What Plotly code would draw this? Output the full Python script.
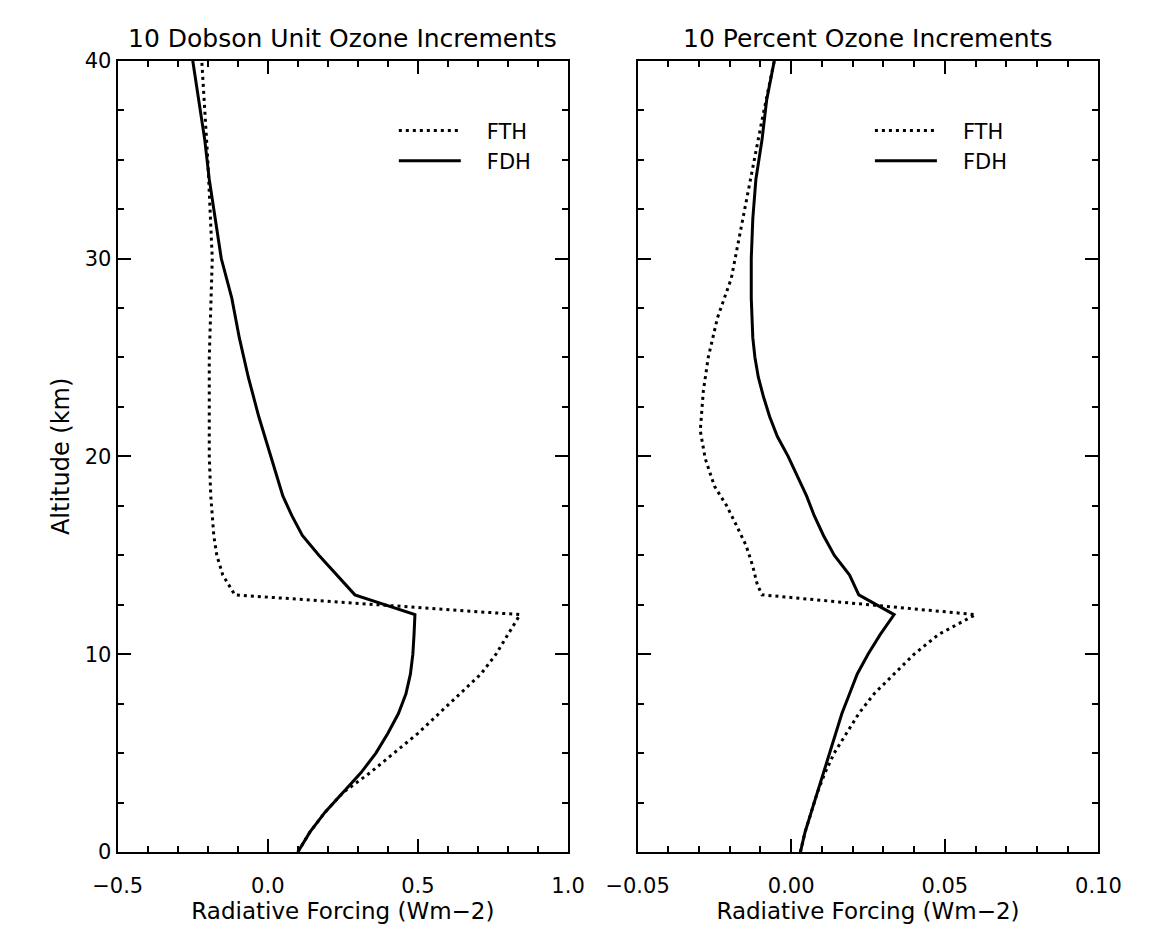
import plotly.graph_objects as go

# ---- 10 Dobson unit ozone increments: altitude (km) vs radiative forcing (W m-2)
du_alt_fth = [0, 1, 2, 3, 4, 5, 6, 7, 8, 9, 10, 11, 12, 13, 14, 15, 16, 18, 20, 25, 30, 35, 40]
du_fth = [0.10, 0.14, 0.19, 0.25, 0.34, 0.42, 0.50, 0.57, 0.64, 0.71, 0.76, 0.80, 0.84,
          -0.11, -0.15, -0.17, -0.18, -0.19, -0.195, -0.195, -0.185, -0.20, -0.22]
du_alt_fdh = [0, 1, 2, 3, 4, 5, 6, 7, 8, 9, 10, 11, 12, 13, 14, 15, 16, 17, 18, 19, 20,
              22, 24, 26, 28, 30, 32, 34, 36, 38, 40]
du_fdh = [0.10, 0.14, 0.19, 0.25, 0.31, 0.36, 0.40, 0.435, 0.46, 0.475, 0.483, 0.487, 0.49,
          0.29, 0.23, 0.17, 0.115, 0.08, 0.05, 0.03, 0.01,
          -0.03, -0.065, -0.095, -0.12, -0.155, -0.175, -0.195, -0.21, -0.23, -0.25]

# ---- 10 percent ozone increments
pct_alt_fth = [0, 1, 2, 3, 4, 5, 6, 7, 8, 9, 10, 11, 12, 13, 13.5, 14.5, 15.5, 16.5, 17.5,
               18.5, 19.9, 21.3, 23.3, 25, 27, 29, 31, 33, 35, 37, 40]
pct_fth = [0.003, 0.0045, 0.0065, 0.0085, 0.011, 0.014, 0.018, 0.022, 0.027, 0.0335, 0.040,
           0.048, 0.060, -0.0095, -0.011, -0.0126, -0.0147, -0.0178, -0.021, -0.025, -0.028,
           -0.0296, -0.0286, -0.027, -0.024, -0.0195, -0.017, -0.0145, -0.012, -0.0095, -0.0055]
pct_alt_fdh = [0, 1, 2, 3, 4, 5, 6, 7, 8, 9, 10, 11, 12, 13, 14, 15, 16, 17, 18, 19, 20,
               21, 22, 23, 24, 25, 26, 28, 30, 32, 34, 36, 38, 40]
pct_fdh = [0.003, 0.0045, 0.0065, 0.0085, 0.0105, 0.0125, 0.0145, 0.0165, 0.019, 0.0215,
           0.025, 0.029, 0.0335, 0.022, 0.019, 0.014, 0.0105, 0.0075, 0.005, 0.002, -0.001,
           -0.0045, -0.007, -0.009, -0.0107, -0.0118, -0.0125, -0.013, -0.013, -0.0125,
           -0.0115, -0.0095, -0.008, -0.0055]

series_names = ["FTH", "FDH"]
panel_titles = ["10 Dobson Unit Ozone Increments", "10 Percent Ozone Increments"]
x_title = "Radiative Forcing (Wm\u22122)"
y_title = "Altitude (km)"
y_ticks = [0, 10, 20, 30, 40]
du_x_ticks = [-0.5, 0.0, 0.5, 1.0]
pct_x_ticks = [-0.05, 0.00, 0.05, 0.10]

FONT = "DejaVu Sans"
INK = "black"
DOT = "3px,4px"
GAP = "\u2002\u2002"  # extra room between the legend sample and its label

fig = go.Figure()

fig.add_trace(go.Scatter(x=du_fth, y=du_alt_fth, mode="lines", name=GAP + series_names[0],
                         line=dict(color=INK, width=3, dash=DOT),
                         xaxis="x", yaxis="y", legend="legend"))
fig.add_trace(go.Scatter(x=du_fdh, y=du_alt_fdh, mode="lines", name=GAP + series_names[1],
                         line=dict(color=INK, width=3),
                         xaxis="x", yaxis="y", legend="legend"))
fig.add_trace(go.Scatter(x=pct_fth, y=pct_alt_fth, mode="lines", name=GAP + series_names[0],
                         line=dict(color=INK, width=3, dash=DOT),
                         xaxis="x2", yaxis="y2", legend="legend2"))
fig.add_trace(go.Scatter(x=pct_fdh, y=pct_alt_fdh, mode="lines", name=GAP + series_names[1],
                         line=dict(color=INK, width=3),
                         xaxis="x2", yaxis="y2", legend="legend2"))

W, H = 1150, 940
left_px = (90, 563)
right_px = (636, 1120)
top_px, bottom_px = 50, 862


def px_x(p):
    return p / W


def px_y(p):
    return (H - p) / H


axis_common = dict(
    showline=True, linewidth=2, linecolor=INK, mirror="ticks",
    ticks="inside", ticklen=13, tickwidth=2, tickcolor=INK,
    showgrid=False, zeroline=False,
    tickfont=dict(family=FONT, size=21, color=INK),
    minor=dict(ticks="inside", ticklen=6, tickwidth=2, tickcolor=INK, showgrid=False),
)
x_title_font = dict(family=FONT, size=23, color=INK)
y_title_font = dict(family=FONT, size=24, color=INK)
legend_font = dict(family=FONT, size=21, color=INK)

fig.update_layout(
    width=W, height=H,
    margin=dict(l=0, r=0, t=0, b=0),
    paper_bgcolor="white", plot_bgcolor="white",
    font=dict(family=FONT, color=INK),
    xaxis=dict(axis_common, domain=[px_x(left_px[0]), px_x(left_px[1])],
               range=[-0.5, 1.0], tickvals=du_x_ticks, tickformat=".1f",
               ticklabelstandoff=14,
               minor=dict(axis_common["minor"], dtick=0.1, tick0=0),
               title=dict(text=x_title, font=x_title_font, standoff=5),
               anchor="y"),
    yaxis=dict(axis_common, domain=[px_y(bottom_px), px_y(top_px)],
               range=[0, 40], tickvals=y_ticks,
               minor=dict(axis_common["minor"], dtick=2.5, tick0=0),
               title=dict(text=y_title, font=y_title_font, standoff=8),
               anchor="x"),
    xaxis2=dict(axis_common, domain=[px_x(right_px[0]), px_x(right_px[1])],
                range=[-0.05, 0.10], tickvals=pct_x_ticks, tickformat=".2f",
                ticklabelstandoff=14,
                minor=dict(axis_common["minor"], dtick=0.01, tick0=0),
                title=dict(text=x_title, font=x_title_font, standoff=5),
                anchor="y2"),
    yaxis2=dict(axis_common, domain=[px_y(bottom_px), px_y(top_px)],
                range=[0, 40], tickvals=y_ticks, showticklabels=False,
                minor=dict(axis_common["minor"], dtick=2.5, tick0=0),
                anchor="x2"),
    legend=dict(x=px_x(380), y=px_y(101), xanchor="left", yanchor="top",
                bgcolor="rgba(0,0,0,0)", font=legend_font,
                itemwidth=62, tracegroupgap=0),
    legend2=dict(x=px_x(880), y=px_y(101), xanchor="left", yanchor="top",
                 bgcolor="rgba(0,0,0,0)", font=legend_font,
                 itemwidth=62, tracegroupgap=0),
    showlegend=True,
)

for title, (x0, x1) in zip(panel_titles, [left_px, right_px]):
    fig.add_annotation(text=title, xref="paper", yref="paper",
                       x=px_x((x0 + x1) / 2), y=px_y(27), xanchor="center", yanchor="middle",
                       showarrow=False, font=dict(family=FONT, size=25, color=INK))

fig.write_html("out.html")
